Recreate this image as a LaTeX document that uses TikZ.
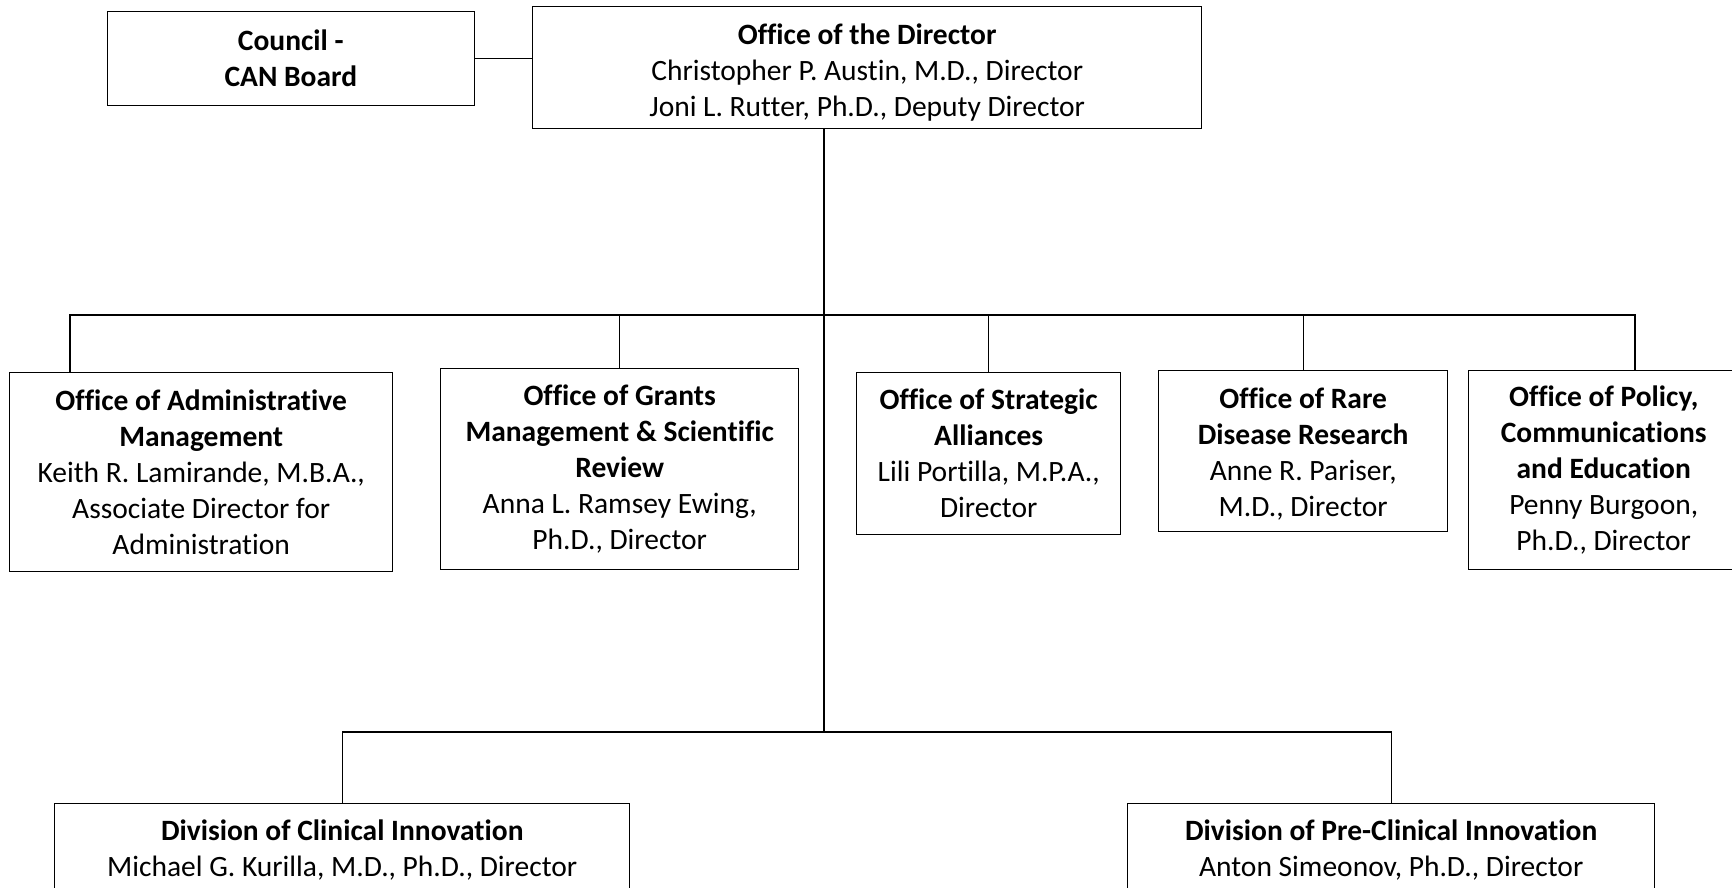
\documentclass[tikz,border=0pt]{standalone}
\usepackage{fontspec}
\setmainfont{Carlito}[Ligatures=NoCommon]
\usetikzlibrary{positioning}

\begin{document}
\begin{tikzpicture}[x=1pt, y=-1pt, line width=1.4pt, node distance=57pt,
    box/.style={draw, align=center, inner sep=2pt, font=\fontsize{29.5}{36}\selectfont}]
	\path[use as bounding box, clip] (0,0) rectangle (1732,887);
	% director and council
	\node[box, anchor=north west, minimum width=669, minimum height=122] (dir) at (532,6)
		{\rule{0pt}{30pt}\textbf{Office of the Director}\\Christopher P. Austin, M.D., Director\\Joni L. Rutter, Ph.D., Deputy Director};
	\node[box, left=of dir, yshift=9pt, minimum width=367, minimum height=94] (council)
		{\textbf{Council -}\\\textbf{CAN Board}};
	\draw (council.east) -- (council.east -| dir.west);
	% offices
	\node[box, anchor=north west, minimum width=383, minimum height=199] (admin) at (9,372)
		{\textbf{Office of Administrative}\\\textbf{Management}\\Keith R. Lamirande, M.B.A.,\\Associate Director for\\Administration};
	\node[box, anchor=north west, minimum width=358, minimum height=201] (grants) at (440,368)
		{\textbf{Office of Grants}\\\textbf{Management \& Scientific}\\\textbf{Review}\\Anna L. Ramsey Ewing,\\Ph.D., Director};
	\node[box, anchor=north west, minimum width=264, minimum height=162] (alliances) at (856,372)
		{\textbf{Office of Strategic}\\\textbf{Alliances}\\Lili Portilla, M.P.A.,\\Director};
	\node[box, anchor=north west, minimum width=289, minimum height=161] (rare) at (1158,370)
		{\rule{0pt}{26pt}\textbf{Office of Rare}\\\textbf{Disease Research}\\Anne R. Pariser,\\M.D., Director};
	\node[box, anchor=north west, minimum width=270, minimum height=199] (policy) at (1468,370)
		{\textbf{Office of Policy,}\\\textbf{Communications}\\\textbf{and Education}\\Penny Burgoon,\\Ph.D., Director};
	% divisions
	\node[box, anchor=north west, minimum width=575, minimum height=92] (clinical) at (54,803)
		{\textbf{Division of Clinical Innovation}\\Michael G. Kurilla, M.D., Ph.D., Director};
	\node[box, anchor=north west, minimum width=527, minimum height=92] (preclin) at (1127,803)
		{\textbf{Division of Pre-Clinical Innovation}\\Anton Simeonov, Ph.D., Director};
	% connectors
	\coordinate (bus) at (824,315);
	\coordinate (low) at (824,732);
	\coordinate (busl) at (70,315);
	\coordinate (busr) at (1635,315);
	\draw (bus |- dir.south) -- (low);
	\draw (admin.north -| busl) -- (busl) -- (busr) -- (busr |- policy.north);
	\foreach \n in {grants, alliances, rare}
		\draw (\n.north) -- (\n.north |- bus);
	\draw (clinical.north) -- (clinical.north |- low) -- (preclin.north |- low) -- (preclin.north);
\end{tikzpicture}
\end{document}
